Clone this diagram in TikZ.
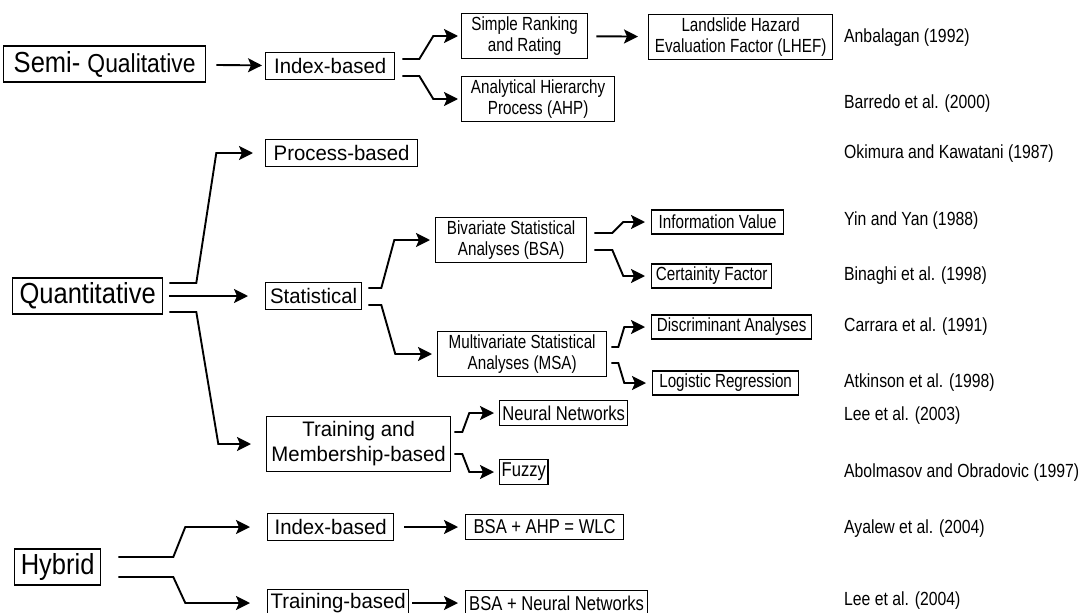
\documentclass[tikz,border=0pt]{standalone}
\usepackage{fontspec}
\setmainfont{Liberation Sans}
\newfontfamily\bigfont[FakeStretch=0.88]{Liberation Sans}
\newfontfamily\midfont[FakeStretch=0.97]{Liberation Sans}
\newfontfamily\narrowfont[FakeStretch=0.8]{Liberation Sans}
\newfontfamily\citefont[FakeStretch=0.83]{Liberation Sans}
\usetikzlibrary{arrows.meta,calc}
\tikzset{box/.style={draw, line width=1.3pt, inner xsep=2pt, inner ysep=3pt, align=center, anchor=west},
bigbox/.style={box, minimum height=36pt, font=\bigfont\fontsize{29}{31}\selectfont},
midbox/.style={box, minimum height=27pt, font=\midfont\fontsize{21}{25}\selectfont},
smallbox/.style={box, minimum height=24pt, font=\narrowfont\fontsize{19}{21}\selectfont},
boldbox/.style={box, minimum height=25pt, font=\citefont\fontsize{20}{22}\selectfont},
cite/.style={anchor=west, inner sep=0pt, font=\citefont\fontsize{19}{21}\selectfont},
arr/.style={-{Stealth[length=14pt,width=14pt,inset=3pt]}, line width=1.9pt},
fork/.style 2 args={arr, to path={let \p1=(\tikztostart),\p2=(\tikztotarget) in
-- (\x1+#1,\y1) -- (\x1+#1+#2,\y2) -- (\tikztotarget)}}}

\begin{document}
\begin{tikzpicture}[x=1pt,y=-1pt]
        \useasboundingbox (0,0) rectangle (1079,613);
        % categories
        \node[bigbox, minimum width=202pt] (semi) at (3,64) {Semi- {\fontsize{26}{28}\selectfont Qualitative}};
        \node[bigbox, minimum width=150pt] (quant) at (12,296) {Quantitative};
        \node[bigbox, minimum width=86pt] (hyb) at (14,567) {Hybrid};

        % semi-qualitative
        \node[midbox, minimum width=129pt] (idx) at (265,66) {Index-based};
        \node[smallbox, minimum width=126pt] (srr) at (461,36) {Simple Ranking\\and Rating};
        \node[smallbox, minimum width=153pt] (ahp) at (461,99) {Analytical Hierarchy\\Process (AHP)};
        \node[smallbox, minimum width=184pt] (lhef) at (648,37) {Landslide Hazard\\Evaluation Factor (LHEF)};

        % quantitative
        \node[midbox, minimum width=152pt] (proc) at (265,153) {Process-based};
        \node[midbox, minimum width=96pt] (stat) at (265,296) {Statistical};
        \node[smallbox, minimum width=151pt] (bsa) at (435,240) {Bivariate Statistical\\Analyses (BSA)};
        \node[smallbox, minimum width=169pt] (msa) at (437,354) {Multivariate Statistical\\Analyses (MSA)};
        \node[smallbox, minimum width=132pt] (infv) at (651,222) {Information Value};
        \node[smallbox, minimum width=120pt] (cert) at (651,276) {Certainity Factor};
        \node[smallbox, minimum width=160pt] (disc) at (651,327) {Discriminant Analyses};
        \node[smallbox, minimum width=146pt] (logr) at (652,383) {Logistic Regression};
        \node[midbox, minimum width=184pt, minimum height=55pt] (train) at (266,444) {Training and\\Membership-based};
        \node[boldbox, minimum width=128pt] (nn) at (499,413) {Neural Networks};
        \node[boldbox, minimum width=48pt] (fuzzy) at (499,472) {Fuzzy};

        % hybrid
        \node[midbox, minimum width=126pt] (hidx) at (267,527) {Index-based};
        \node[boldbox, minimum width=158pt] (wlc) at (465,527) {BSA + AHP = WLC};
        \node[midbox, minimum width=141pt] (tb) at (267,603) {Training-based};
        \node[boldbox, minimum width=182pt] (bsann) at (465,603) {BSA + Neural Networks};

        % references
        \node[cite] (anb) at (844,38) {Anbalagan (1992)};
        \node[cite] (barr) at (844,104) {Barredo et al. (2000)};
        \node[cite] (okim) at (844,154) {Okimura and Kawatani (1987)};
        \node[cite] (yin) at (844,221) {Yin and Yan (1988)};
        \node[cite] (bina) at (844,276) {Binaghi et al. (1998)};
        \node[cite] (carr) at (844,327) {Carrara et al. (1991)};
        \node[cite] (atki) at (844,383) {Atkinson et al. (1998)};
        \node[cite] (lee3) at (844,416) {Lee et al. (2003)};
        \node[cite] (abol) at (844,473) {Abolmasov and Obradovic (1997)};
        \node[cite] (ayal) at (844,529) {Ayalew et al. (2004)};
        \node[cite] (lee4) at (844,601) {Lee et al. (2004)};

        \draw[arr, shorten <=10pt, shorten >=3pt] (semi) -- (idx);
        \draw[fork={17}{14}, shorten >=3pt] ([shift={(7,-7)}]idx.east) to (srr.west);
        \draw[fork={17}{14}, shorten >=3pt] ([shift={(7,10)}]idx.east) to (ahp.west);
        \draw[arr, shorten <=8pt, shorten >=10pt] (srr) -- (lhef);

        \draw[fork={27}{20}, shorten >=12pt] ([shift={(6,-13)}]quant.east) to (proc.west);
        \draw[arr, shorten <=6pt, shorten >=17pt] (quant) -- (stat);
        \draw[fork={27}{22}, shorten >=15pt] ([shift={(6,16)}]quant.east) to (train.west);

        \draw[fork={13}{13}, shorten >=5pt] ([shift={(6,-8)}]stat.east) to (bsa.west);
        \draw[fork={13}{14}, shorten >=5pt] ([shift={(6,9)}]stat.east) to (msa.west);
        \draw[fork={18}{11}, shorten >=6pt] ([shift={(7,-7)}]bsa.east) to (infv.west);
        \draw[fork={18}{11}, shorten >=6pt] ([shift={(7,10)}]bsa.east) to (cert.west);
        \draw[fork={7}{6}, shorten >=6pt] ([shift={(4,-7)}]msa.east) to (disc.west);
        \draw[fork={7}{6}, shorten >=6pt] ([shift={(4,9)}]msa.east) to (logr.west);
        \draw[fork={8}{7}, shorten >=5pt] ([shift={(3,-12)}]train.east) to (nn.west);
        \draw[fork={8}{7}, shorten >=5pt] ([shift={(3,10)}]train.east) to (fuzzy.west);

        \draw[fork={55}{12}, shorten >=17pt] ([shift={(17,-10)}]hyb.east) to (hidx.west);
        \draw[fork={55}{12}, shorten >=17pt] ([shift={(17,10)}]hyb.east) to (tb.west);
        \draw[arr, shorten <=10pt, shorten >=7pt] (hidx) -- (wlc);
        \draw[arr, shorten <=3pt, shorten >=7pt] (tb) -- (bsann);
\end{tikzpicture}
\end{document}
